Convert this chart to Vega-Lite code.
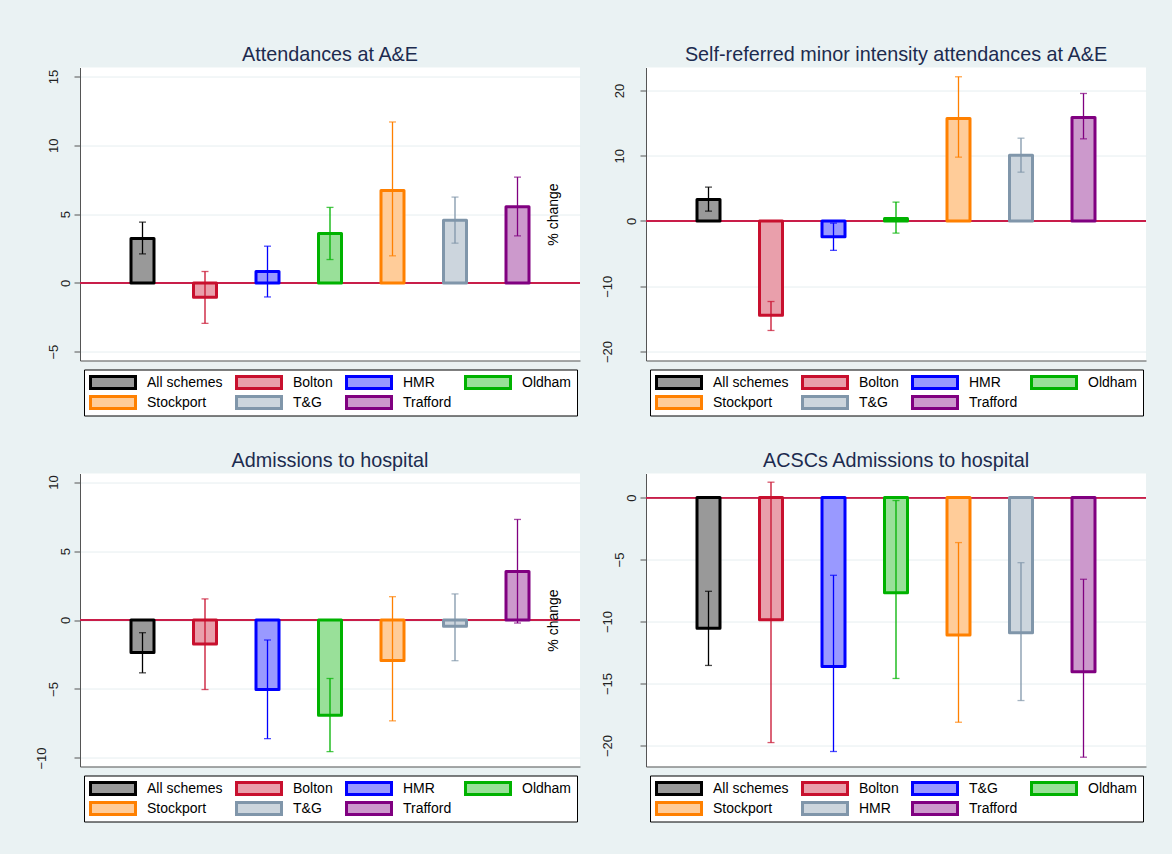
{
  "$schema": "https://vega.github.io/schema/vega-lite/v6.json",
  "background": "#EAF2F3",
  "padding": {"left": 35, "top": 44.5, "right": 26, "bottom": 36},
  "datasets": {
    "ae": [
      {"scheme": "All schemes", "change": 3.23, "lo": 2.11, "hi": 4.42},
      {"scheme": "Bolton", "change": -1.04, "lo": -2.94, "hi": 0.83},
      {"scheme": "HMR", "change": 0.83, "lo": -1.02, "hi": 2.67},
      {"scheme": "Oldham", "change": 3.59, "lo": 1.70, "hi": 5.49},
      {"scheme": "Stockport", "change": 6.72, "lo": 1.97, "hi": 11.70},
      {"scheme": "T&G", "change": 4.56, "lo": 2.89, "hi": 6.24},
      {"scheme": "Trafford", "change": 5.53, "lo": 3.42, "hi": 7.69}
    ],
    "selfref": [
      {"scheme": "All schemes", "change": 3.3, "lo": 1.51, "hi": 5.19},
      {"scheme": "Bolton", "change": -14.43, "lo": -16.78, "hi": -12.34},
      {"scheme": "HMR", "change": -2.43, "lo": -4.5, "hi": -0.33},
      {"scheme": "Oldham", "change": 0.38, "lo": -1.86, "hi": 2.89},
      {"scheme": "Stockport", "change": 15.7, "lo": 9.78, "hi": 22.1},
      {"scheme": "T&G", "change": 10.09, "lo": 7.48, "hi": 12.69},
      {"scheme": "Trafford", "change": 15.86, "lo": 12.59, "hi": 19.54}
    ],
    "adm": [
      {"scheme": "All schemes", "change": -2.35, "lo": -3.83, "hi": -0.92},
      {"scheme": "Bolton", "change": -1.74, "lo": -5.04, "hi": 1.53},
      {"scheme": "HMR", "change": -5.04, "lo": -8.6, "hi": -1.45},
      {"scheme": "Oldham", "change": -6.9, "lo": -9.54, "hi": -4.24},
      {"scheme": "Stockport", "change": -2.93, "lo": -7.31, "hi": 1.69},
      {"scheme": "T&G", "change": -0.46, "lo": -2.95, "hi": 1.89},
      {"scheme": "Trafford", "change": 3.51, "lo": -0.22, "hi": 7.29}
    ],
    "acsc": [
      {"scheme": "All schemes", "change": -10.55, "lo": -13.54, "hi": -7.56},
      {"scheme": "Bolton", "change": -9.85, "lo": -19.76, "hi": 1.24},
      {"scheme": "T&G", "change": -13.62, "lo": -20.48, "hi": -6.27},
      {"scheme": "Oldham", "change": -7.67, "lo": -14.59, "hi": -0.24},
      {"scheme": "Stockport", "change": -11.09, "lo": -18.12, "hi": -3.63},
      {"scheme": "HMR", "change": -10.9, "lo": -16.37, "hi": -5.25},
      {"scheme": "Trafford", "change": -14.05, "lo": -20.94, "hi": -6.59}
    ]
  },
  "columns": 2,
  "spacing": {"row": 113, "column": 66},
  "bounds": "flush",
  "concat": [
    {
      "title": {"text": "Attendances at A&E"},
      "width": 500, "height": 293,
      "data": {"name": "ae"},
      "layer": [
        {"mark": {"type": "rule", "color": "#C81E4A", "strokeWidth": 1.3}, "encoding": {"y": {"datum": 0, "type": "quantitative"}}},
        {"mark": {"type": "bar", "strokeWidth": 3, "strokeJoin": "round"},
         "encoding": {
           "x": {"field": "scheme", "type": "nominal", "sort": null, "scale": {"paddingInner": 0.632, "paddingOuter": 0.816}},
           "y": {"field": "change", "type": "quantitative", "scale": {"domain": [-5.64, 15.66], "nice": false, "zero": false},
                 "axis": {"values": [-5, 0, 5, 10, 15], "title": null, "labelPadding": {"condition": [{"test": "length(datum.label) == 1", "value": 4.7}, {"test": "length(datum.label) == 3", "value": 28.5}], "value": 16.5}}},
           "y2": {"datum": 0},
           "fill": {"field": "scheme", "type": "nominal", "sort": null, "scale": {"range": ["#999999", "#E99FAB", "#9999FF", "#99E099", "#FFCC99", "#CCD5DD", "#CC99CC"]}, "legend": {"title": null, "orient": "none", "legendX": 4, "legendY": 302, "columns": 4, "direction": "horizontal"}},
           "stroke": {"field": "scheme", "type": "nominal", "sort": null, "scale": {"range": ["#000000", "#C8102E", "#0000FF", "#00B200", "#FF8000", "#8096AA", "#800080"]}, "legend": {"title": null, "orient": "none", "legendX": 4, "legendY": 302, "columns": 4, "direction": "horizontal"}}
         }},
        {"mark": {"type": "errorbar", "ticks": {"size": 7, "thickness": 1.3}, "rule": {"strokeWidth": 1.3}},
         "encoding": {
           "x": {"field": "scheme", "type": "nominal", "sort": null},
           "y": {"field": "lo", "type": "quantitative", "axis": {"values": [-5, 0, 5, 10, 15], "title": null, "labelPadding": {"condition": [{"test": "length(datum.label) == 1", "value": 4.7}, {"test": "length(datum.label) == 3", "value": 28.5}], "value": 16.5}}},
           "y2": {"field": "hi"},
           "color": {"field": "scheme", "type": "nominal", "sort": null, "scale": {"range": ["#000000", "#C8102E", "#0000FF", "#00B200", "#FF8000", "#8096AA", "#800080"]}, "legend": null}
         }}
      ]
    },
    {
      "title": {"text": "Self-referred minor intensity attendances at A&E"},
      "width": 500, "height": 293,
      "data": {"name": "selfref"},
      "layer": [
        {"mark": {"type": "rule", "color": "#C81E4A", "strokeWidth": 1.3}, "encoding": {"y": {"datum": 0, "type": "quantitative"}}},
        {"mark": {"type": "bar", "strokeWidth": 3, "strokeJoin": "round"},
         "encoding": {
           "x": {"field": "scheme", "type": "nominal", "sort": null, "scale": {"paddingInner": 0.632, "paddingOuter": 0.816}},
           "y": {"field": "change", "type": "quantitative", "scale": {"domain": [-21.38, 23.52], "nice": false, "zero": false},
                 "axis": {"values": [-20, -10, 0, 10, 20], "title": "% change", "titleX": -88.2, "titleY": 146.5, "titleAngle": -90, "titleAlign": "center", "titleBaseline": "alphabetic", "labelPadding": {"condition": [{"test": "length(datum.label) == 1", "value": 4.7}, {"test": "length(datum.label) == 3", "value": 28.5}], "value": 16.5}}},
           "y2": {"datum": 0},
           "fill": {"field": "scheme", "type": "nominal", "sort": null, "scale": {"range": ["#999999", "#E99FAB", "#9999FF", "#99E099", "#FFCC99", "#CCD5DD", "#CC99CC"]}, "legend": {"title": null, "orient": "none", "legendX": 4, "legendY": 302, "columns": 4, "direction": "horizontal"}},
           "stroke": {"field": "scheme", "type": "nominal", "sort": null, "scale": {"range": ["#000000", "#C8102E", "#0000FF", "#00B200", "#FF8000", "#8096AA", "#800080"]}, "legend": {"title": null, "orient": "none", "legendX": 4, "legendY": 302, "columns": 4, "direction": "horizontal"}}
         }},
        {"mark": {"type": "errorbar", "ticks": {"size": 7, "thickness": 1.3}, "rule": {"strokeWidth": 1.3}},
         "encoding": {
           "x": {"field": "scheme", "type": "nominal", "sort": null},
           "y": {"field": "lo", "type": "quantitative", "axis": {"values": [-20, -10, 0, 10, 20], "title": "% change", "titleX": -88.2, "titleY": 146.5, "titleAngle": -90, "titleAlign": "center", "titleBaseline": "alphabetic", "labelPadding": {"condition": [{"test": "length(datum.label) == 1", "value": 4.7}, {"test": "length(datum.label) == 3", "value": 28.5}], "value": 16.5}}},
           "y2": {"field": "hi"},
           "color": {"field": "scheme", "type": "nominal", "sort": null, "scale": {"range": ["#000000", "#C8102E", "#0000FF", "#00B200", "#FF8000", "#8096AA", "#800080"]}, "legend": null}
         }}
      ]
    },
    {
      "title": {"text": "Admissions to hospital"},
      "width": 500, "height": 293,
      "data": {"name": "adm"},
      "layer": [
        {"mark": {"type": "rule", "color": "#C81E4A", "strokeWidth": 1.3}, "encoding": {"y": {"datum": 0, "type": "quantitative"}}},
        {"mark": {"type": "bar", "strokeWidth": 3, "strokeJoin": "round"},
         "encoding": {
           "x": {"field": "scheme", "type": "nominal", "sort": null, "scale": {"paddingInner": 0.632, "paddingOuter": 0.816}},
           "y": {"field": "change", "type": "quantitative", "scale": {"domain": [-10.62, 10.62], "nice": false, "zero": false},
                 "axis": {"values": [-10, -5, 0, 5, 10], "title": null, "labelPadding": {"condition": [{"test": "length(datum.label) == 1", "value": 4.7}, {"test": "length(datum.label) == 3", "value": 28.5}], "value": 16.5}}},
           "y2": {"datum": 0},
           "fill": {"field": "scheme", "type": "nominal", "sort": null, "scale": {"range": ["#999999", "#E99FAB", "#9999FF", "#99E099", "#FFCC99", "#CCD5DD", "#CC99CC"]}, "legend": {"title": null, "orient": "none", "legendX": 4, "legendY": 302, "columns": 4, "direction": "horizontal"}},
           "stroke": {"field": "scheme", "type": "nominal", "sort": null, "scale": {"range": ["#000000", "#C8102E", "#0000FF", "#00B200", "#FF8000", "#8096AA", "#800080"]}, "legend": {"title": null, "orient": "none", "legendX": 4, "legendY": 302, "columns": 4, "direction": "horizontal"}}
         }},
        {"mark": {"type": "errorbar", "ticks": {"size": 7, "thickness": 1.3}, "rule": {"strokeWidth": 1.3}},
         "encoding": {
           "x": {"field": "scheme", "type": "nominal", "sort": null},
           "y": {"field": "lo", "type": "quantitative", "axis": {"values": [-10, -5, 0, 5, 10], "title": null, "labelPadding": {"condition": [{"test": "length(datum.label) == 1", "value": 4.7}, {"test": "length(datum.label) == 3", "value": 28.5}], "value": 16.5}}},
           "y2": {"field": "hi"},
           "color": {"field": "scheme", "type": "nominal", "sort": null, "scale": {"range": ["#000000", "#C8102E", "#0000FF", "#00B200", "#FF8000", "#8096AA", "#800080"]}, "legend": null}
         }}
      ]
    },
    {
      "title": {"text": "ACSCs Admissions to hospital"},
      "width": 500, "height": 293,
      "data": {"name": "acsc"},
      "layer": [
        {"mark": {"type": "rule", "color": "#C81E4A", "strokeWidth": 1.3}, "encoding": {"y": {"datum": 0, "type": "quantitative"}}},
        {"mark": {"type": "bar", "strokeWidth": 3, "strokeJoin": "round"},
         "encoding": {
           "x": {"field": "scheme", "type": "nominal", "sort": null, "scale": {"paddingInner": 0.632, "paddingOuter": 0.816}},
           "y": {"field": "change", "type": "quantitative", "scale": {"domain": [-21.69, 1.94], "nice": false, "zero": false},
                 "axis": {"values": [-20, -15, -10, -5, 0], "title": "% change", "titleX": -88.2, "titleY": 146.5, "titleAngle": -90, "titleAlign": "center", "titleBaseline": "alphabetic", "labelPadding": {"condition": [{"test": "length(datum.label) == 1", "value": 4.7}, {"test": "length(datum.label) == 3", "value": 28.5}], "value": 16.5}}},
           "y2": {"datum": 0},
           "fill": {"field": "scheme", "type": "nominal", "sort": null, "scale": {"range": ["#999999", "#E99FAB", "#9999FF", "#99E099", "#FFCC99", "#CCD5DD", "#CC99CC"]}, "legend": {"title": null, "orient": "none", "legendX": 4, "legendY": 302, "columns": 4, "direction": "horizontal"}},
           "stroke": {"field": "scheme", "type": "nominal", "sort": null, "scale": {"range": ["#000000", "#C8102E", "#0000FF", "#00B200", "#FF8000", "#8096AA", "#800080"]}, "legend": {"title": null, "orient": "none", "legendX": 4, "legendY": 302, "columns": 4, "direction": "horizontal"}}
         }},
        {"mark": {"type": "errorbar", "ticks": {"size": 7, "thickness": 1.3}, "rule": {"strokeWidth": 1.3}},
         "encoding": {
           "x": {"field": "scheme", "type": "nominal", "sort": null},
           "y": {"field": "lo", "type": "quantitative", "axis": {"values": [-20, -15, -10, -5, 0], "title": "% change", "titleX": -88.2, "titleY": 146.5, "titleAngle": -90, "titleAlign": "center", "titleBaseline": "alphabetic", "labelPadding": {"condition": [{"test": "length(datum.label) == 1", "value": 4.7}, {"test": "length(datum.label) == 3", "value": 28.5}], "value": 16.5}}},
           "y2": {"field": "hi"},
           "color": {"field": "scheme", "type": "nominal", "sort": null, "scale": {"range": ["#000000", "#C8102E", "#0000FF", "#00B200", "#FF8000", "#8096AA", "#800080"]}, "legend": null}
         }}
      ]
    }
  ],
  "resolve": {
    "scale": {"x": "independent", "y": "independent", "fill": "independent", "stroke": "independent", "color": "independent"},
    "axis": {"x": "independent", "y": "independent"},
    "legend": {"fill": "independent", "stroke": "independent", "color": "independent"}
  },
  "config": {
    "font": "Liberation Sans",
    "view": {"stroke": null, "fill": "white"},
    "title": {"fontSize": 19.8, "fontWeight": "normal", "color": "#1C2B4F", "font": "Liberation Sans", "anchor": "middle", "baseline": "alphabetic", "offset": 2.5},
    "axisY": {"labelAngle": -90, "labelAlign": "center", "labelBaseline": "alphabetic", "labelFontSize": 13, "labelColor": "#222222", "labelFont": "Liberation Sans", "tickSize": 6, "tickColor": "#555555", "domainColor": "#555555", "gridColor": "#E6EEF0", "grid": true, "labelOverlap": false, "labelFlush": false, "titleFont": "Liberation Sans", "titleFontSize": 14, "titleFontWeight": "normal", "titleColor": "#000000"},
    "axisX": {"labels": false, "ticks": false, "title": null, "domainColor": "#555555", "grid": false},
    "legend": {"symbolType": "M-3,-0.8H3V0.8H-3Z", "symbolSize": 225, "symbolStrokeWidth": 3, "labelFontSize": 14, "labelFont": "Liberation Sans", "labelColor": "#000000", "symbolOffset": 15, "labelOffset": 25, "columnPadding": 12, "rowPadding": 4, "clipHeight": 16, "padding": 5, "strokeColor": "#000000", "fillColor": "#FFFFFF", "labelLimit": 300}
  }
}
